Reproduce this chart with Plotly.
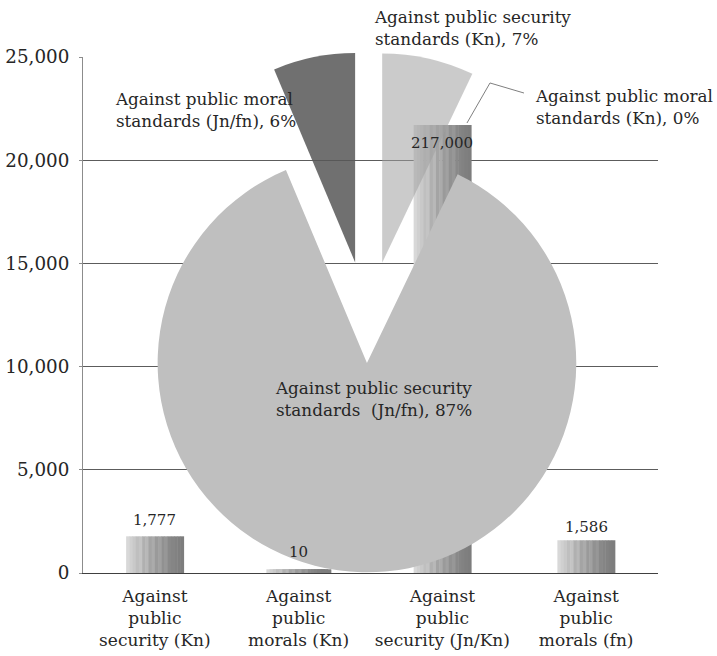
import plotly.graph_objects as go

# ---- data -------------------------------------------------------------
categories = [
    "Against public security (Kn)",
    "Against public morals (Kn)",
    "Against public security (Jn/Kn)",
    "Against public morals (fn)",
]
bar_values = [1777, 10, 21700, 1586]
bar_labels = ["1,777", "10", "217,000", "1,586"]

pie_labels = [
    "Against public security standards (Kn)",
    "Against public moral standards (Kn)",
    "Against public security standards  (Jn/fn)",
    "Against public moral standards (Jn/fn)",
]
pie_values = [1777, 10, 21700, 1586]

y_ticks = [0, 5000, 10000, 15000, 20000, 25000]

# ---- styling ----------------------------------------------------------
FONT = "DejaVu Serif"
TEXT = "#262626"
W, H = 717, 656

# left-to-right shading of each column (light edge to dark edge)
BAR_SHADES = [
    "#d8d8d8", "#d0d0d0", "#c9c9c9", "#bfbfbf", "#c4c4c4", "#b0b0b0",
    "#b8b8b8", "#a4a4a4", "#ababab", "#9a9a9a", "#a1a1a1", "#919191",
    "#979797", "#898989", "#858585", "#828282", "#7f7f7f", "#7d7d7d",
]
PIE_COLORS = [
    "rgba(160,160,160,0.55)",  # security (Kn)
    "rgba(0,0,0,0)",           # moral (Kn)
    "#bfbfbf",                 # security (Jn/fn)
    "rgba(87,87,87,0.85)",     # moral (Jn/fn)
]
PIE_PULL = [0.309, 0.309, 0.178, 0.309]


def px_x(v):
    return v / W


def px_y(v):
    return 1 - v / H


def two_lines(label, after=3):
    words = label.split(" ", after)
    head = " ".join(words[:after])
    tail = words[after].replace("  ", "\u00a0 ")
    return head + "<br>" + tail


def wrap_category(label):
    a, b, rest = label.split(" ", 2)
    return "<br>".join([a, b, rest])


fig = go.Figure()

# ---- striped columns --------------------------------------------------
xs = list(range(len(categories)))
bar_width = 0.40
n = len(BAR_SHADES)
step = bar_width / n
for i, shade in enumerate(BAR_SHADES):
    fig.add_trace(go.Bar(
        x=xs, y=bar_values,
        width=step * 1.15,
        offset=-bar_width / 2 + i * step,
        marker=dict(color=shade, line=dict(color=shade, width=[0, 7, 0, 0])),
        hoverinfo="skip", showlegend=False,
    ))

# ---- exploded pie overlay ---------------------------------------------
cx, cy, half = 367.9, 325.8, 274.0
fig.add_trace(go.Pie(
    labels=pie_labels, values=pie_values,
    sort=False, direction="clockwise", rotation=0,
    pull=PIE_PULL,
    marker=dict(colors=PIE_COLORS, line=dict(width=0)),
    textinfo="none", hoverinfo="skip", showlegend=False,
    domain=dict(x=[px_x(cx - half), px_x(cx + half)],
                y=[px_y(cy + half), px_y(cy - half)]),
))

annotations = []

# column value labels
bar_label_shift = [16.5, 21, -18, 13.5]
for i, (v, t) in enumerate(zip(bar_values, bar_labels)):
    annotations.append(dict(
        x=xs[i], y=v, xref="x", yref="y", text=t, showarrow=False,
        yanchor="middle", yshift=bar_label_shift[i],
        font=dict(family=FONT, size=15, color=TEXT),
    ))

# slice labels
total = sum(pie_values)
slice_label_pos = [(372, 28), (533, 107), (273, 399), (113, 110)]
for lab, v, (lx, ly) in zip(pie_labels, pie_values, slice_label_pos):
    pct = round(v / total * 100)
    annotations.append(dict(
        x=px_x(lx), y=px_y(ly), xref="paper", yref="paper",
        text=f"{two_lines(lab)}, {pct}%", showarrow=False,
        xanchor="left", yanchor="middle", align="left",
        font=dict(family=FONT, size=16.8, color=TEXT),
    ))

# leader line for the zero-width slice
leader = [(467, 123), (490, 83), (524, 93)]
path = "M " + " L ".join(f"{px_x(a):.4f},{px_y(b):.4f}" for a, b in leader)
shapes = [dict(type="path", path=path, xref="paper", yref="paper",
               line=dict(color="#7f7f7f", width=1), layer="above")]

fig.update_layout(
    width=W, height=H,
    margin=dict(l=0, r=0, t=0, b=0, autoexpand=False),
    paper_bgcolor="white", plot_bgcolor="white",
    font=dict(family=FONT, color=TEXT),
    barmode="overlay",
    annotations=annotations,
    shapes=shapes,
    xaxis=dict(
        domain=[px_x(83), px_x(658)],
        range=[-0.5, len(categories) - 0.5],
        tickmode="array", tickvals=xs,
        ticktext=[wrap_category(c) for c in categories],
        tickfont=dict(family=FONT, size=17, color=TEXT),
        showgrid=False, zeroline=False,
        showline=True, linecolor="#404040", linewidth=1.3,
        ticks="", ticklabelstandoff=7,
    ),
    yaxis=dict(
        domain=[px_y(573), px_y(57)],
        range=[0, 25000],
        tickmode="array", tickvals=y_ticks,
        tickformat=",",
        tickfont=dict(family=FONT, size=18.3, color=TEXT),
        showgrid=True, gridcolor="#5c5c5c", gridwidth=1,
        zeroline=False,
        showline=True, linecolor="#8c8c8c", linewidth=1,
        ticks="outside", ticklen=3, tickcolor="#8c8c8c",
        ticklabelstandoff=6,
    ),
)

fig.write_html("out.html")
